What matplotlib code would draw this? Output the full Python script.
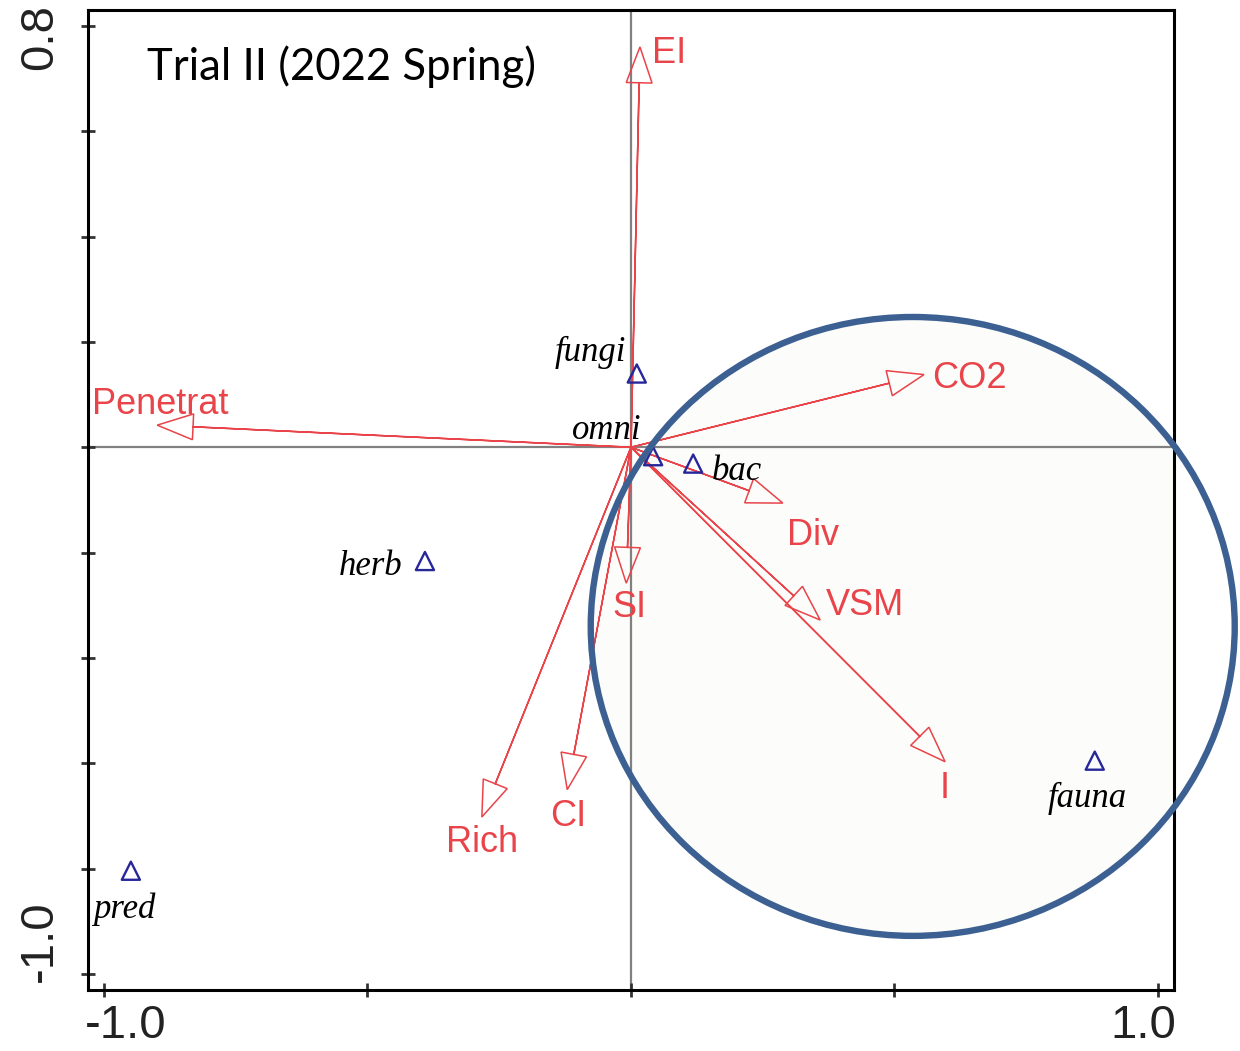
import matplotlib
matplotlib.use("Agg")
import matplotlib.pyplot as plt
from matplotlib.patches import Ellipse

# Environmental variables (arrows) in ordination space
variables = ["EI", "CO2", "Penetrat", "Div", "VSM", "I", "SI", "CI", "Rich"]
var_x = [0.017, 0.556, -0.899, 0.288, 0.359, 0.596, -0.009, -0.121, -0.283]
var_y = [0.760, 0.138, 0.042, -0.106, -0.328, -0.597, -0.258, -0.650, -0.702]

# Nematode feeding groups (triangles)
groups = ["fungi", "omni", "bac", "herb", "fauna", "pred"]
grp_x = [0.011, 0.042, 0.118, -0.391, 0.880, -0.949]
grp_y = [0.140, -0.017, -0.031, -0.216, -0.595, -0.804]

# Axis ticks
x_ticks = [-1.0, -0.5, 0.0, 0.5, 1.0]
y_ticks = [0.8, 0.6, 0.4, 0.2, 0.0, -0.2, -0.4, -0.6, -0.8, -1.0]
x_end_labels = ["-1.0", "1.0"]
y_end_labels = ["0.8", "-1.0"]

title = "Trial II (2022 Spring)"

# ---- styling / placement ----
RED = "#e8444a"
NAVY = "#27279a"
GREY = "#808080"
RING = "#3b6091"

var_offsets = [(12, -16), (8, -13), (-65, 11), (4, -42), (6, 5),
               (0, -36), (-14, -34), (-17, -36), (-36, -35)]
var_ha = ["left", "left", "left", "left", "left", "center", "left", "left", "left"]

grp_offsets = [(-11, 13), (-81, 17), (19, -16), (-23, -14), (-47, -46), (-38, -47)]
grp_ha = ["right", "left", "left", "right", "left", "left"]

fig = plt.figure(figsize=(12.4, 10.51), dpi=100)
ax = fig.add_axes([0.07137, 0.05776, 0.8758, 0.9323])
ax.set_xlim(-1.0294, 1.0313)
ax.set_ylim(-1.031, 0.8293)

# Highlight ellipse: pale fill below, outline on top
ax.add_patch(Ellipse((0.5346, -0.3402), 1.222, 1.175, facecolor="#fcfcfa",
                     edgecolor="none", zorder=0.5))
ax.add_patch(Ellipse((0.5346, -0.3402), 1.222, 1.175, facecolor="none",
                     edgecolor=RING, lw=4.6, zorder=6, clip_on=False))

# Cross-hair through origin
ax.axhline(0, color=GREY, lw=1.6, zorder=1)
ax.axvline(0, color=GREY, lw=1.6, zorder=1)

# Arrows with hollow heads
for name, x, y, off, ha in zip(variables, var_x, var_y, var_offsets, var_ha):
    ax.arrow(0, 0, x, y, width=0.0, head_width=0.049, head_length=0.068,
             length_includes_head=True, fc="none", ec=RED, lw=1.1, zorder=2)
    ax.annotate(name, xy=(x, y), xytext=off, textcoords="offset pixels",
                ha=ha, va="baseline", color=RED, fontsize=26,
                family=["Liberation Sans", "DejaVu Sans"], zorder=4)

# Group markers
ax.scatter(grp_x, grp_y, marker="^", s=170, facecolors="none",
           edgecolors=NAVY, linewidths=1.7, zorder=3)
for name, x, y, off, ha in zip(groups, grp_x, grp_y, grp_offsets, grp_ha):
    ax.annotate(name, xy=(x, y), xytext=off, textcoords="offset pixels",
                ha=ha, va="baseline", color="black", fontsize=25,
                style="italic", family=["Liberation Serif", "DejaVu Serif"],
                zorder=4)

# Title inside the frame
fig.text(147 / 1240, 1 - 80 / 1051, title, ha="left", va="baseline",
         fontsize=31.5, family=["Lato", "DejaVu Sans"], color="black")

# Frame and ticks
for sp in ax.spines.values():
    sp.set_linewidth(2.2)
    sp.set_color("black")
ax.set_xticks(x_ticks)
ax.set_yticks(y_ticks)
ax.tick_params(axis="both", direction="inout", length=9.4, width=2.0,
               color="#333333", labelbottom=False, labelleft=False)

tick_font = dict(fontsize=34, color="#222222",
                 family=["Liberation Sans Narrow", "Liberation Sans"])
ax.annotate(y_end_labels[0], xy=(0, y_ticks[0]), xycoords=("axes fraction", "data"),
            xytext=(-48.5, -11), textcoords="offset pixels", rotation=90,
            ha="center", va="center", annotation_clip=False, **tick_font)
ax.annotate(y_end_labels[1], xy=(0, y_ticks[-1]), xycoords=("axes fraction", "data"),
            xytext=(-48.5, 33), textcoords="offset pixels", rotation=90,
            ha="center", va="center", annotation_clip=False, **tick_font)
ax.annotate(x_end_labels[0], xy=(x_ticks[0], 0), xycoords=("data", "axes fraction"),
            xytext=(22, -14), textcoords="offset pixels",
            ha="center", va="top", annotation_clip=False, **tick_font)
ax.annotate(x_end_labels[1], xy=(x_ticks[-1], 0), xycoords=("data", "axes fraction"),
            xytext=(-15, -14), textcoords="offset pixels",
            ha="center", va="top", annotation_clip=False, **tick_font)

fig.savefig("out.png", dpi=100, facecolor="white")
